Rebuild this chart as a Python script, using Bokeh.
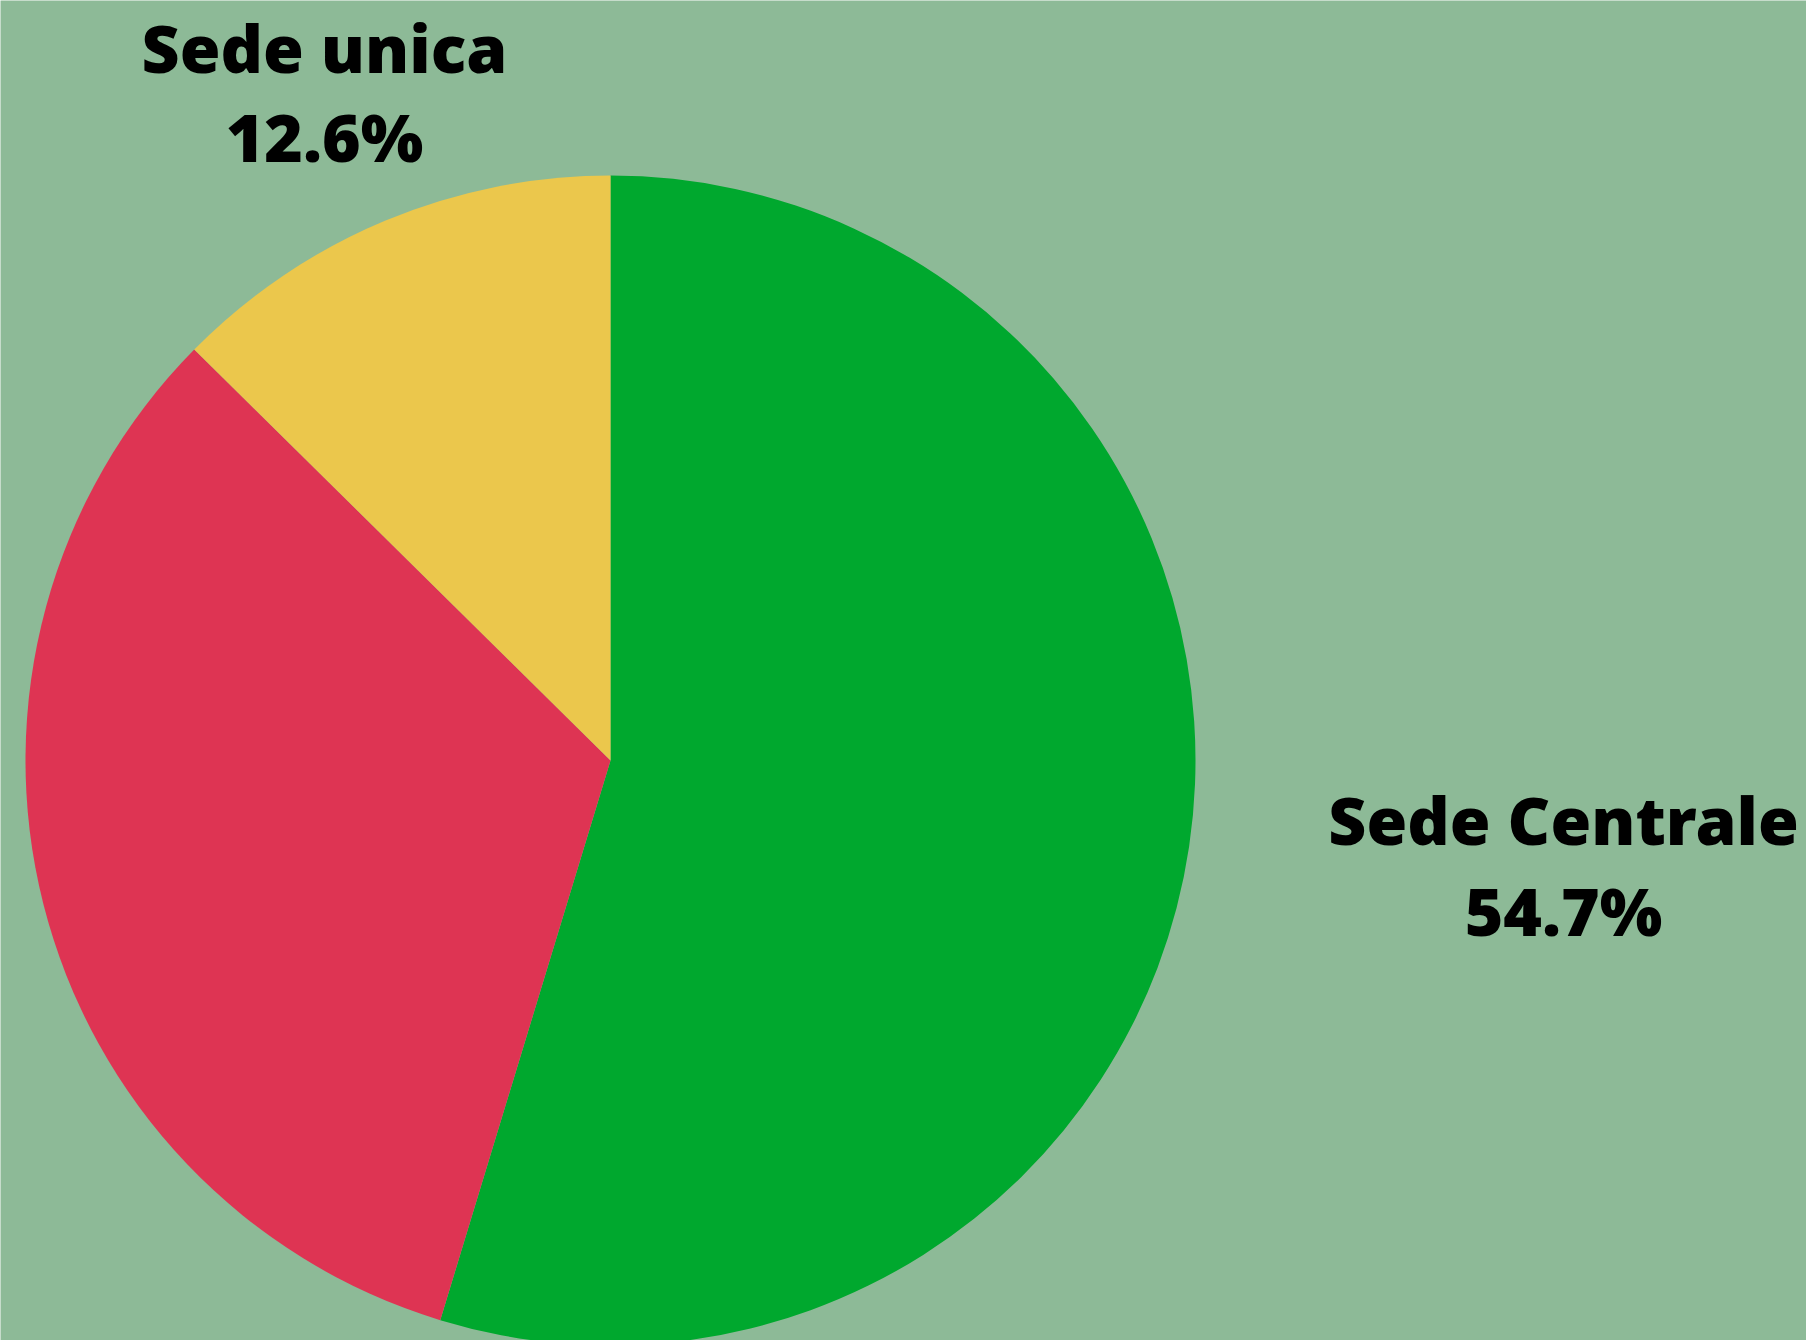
import math
from bokeh.plotting import figure
from bokeh.models import Range1d, ColumnDataSource
from bokeh.core.properties import value
from bokeh.embed import file_html
from bokeh.resources import INLINE

# Data
categories = ["Sede Centrale", "Altre sedi", "Sede unica"]
shares = [54.7, 32.7, 12.6]
colors = ["#00a82e", "#de3453", "#ebc74c"]
show_label = [True, False, True]

BG = "#8dba97"
W, H = 1806, 1340

p = figure(width=W, height=H, output_backend="svg", toolbar_location=None,
           x_range=Range1d(0, W), y_range=Range1d(0, H),
           min_border=0, background_fill_color=BG, border_fill_color=BG)
p.axis.visible = False
p.grid.visible = False
p.outline_line_color = None

cx, cy, r = 610, 1340 - 760, 585
total = sum(shares)
starts, ends = [], []
cum = 0.0
for s in shares:
    starts.append(math.pi / 2 - cum / total * 2 * math.pi)
    cum += s
    ends.append(math.pi / 2 - cum / total * 2 * math.pi)

src = ColumnDataSource(dict(cat=categories, share=shares, color=colors,
                            start=starts, end=ends))
p.wedge(x=cx, y=cy, radius=r, start_angle="start", end_angle="end",
        direction="clock", fill_color="color", line_color=None, source=src)

# label placements (style only)
label_pos = {
    "Sede Centrale": (1563, 1340 - 818, 1340 - 909),
    "Sede unica": (324, 1340 - 46, 1340 - 135),
}
for cat, share, show in zip(categories, shares, show_label):
    if not show:
        continue
    x, y1, y2 = label_pos[cat]
    for txt, yy in ((cat, y1), (f"{share:.1f}%", y2)):
        p.text(x=[x], y=[yy], text=[txt],
               text_font=value("Open Sans ExtraBold, Open Sans"),
               text_font_style="normal", text_font_size="66px",
               text_align="center", text_baseline="alphabetic",
               text_color="black")

open("out.html", "w").write(file_html(p, INLINE))
